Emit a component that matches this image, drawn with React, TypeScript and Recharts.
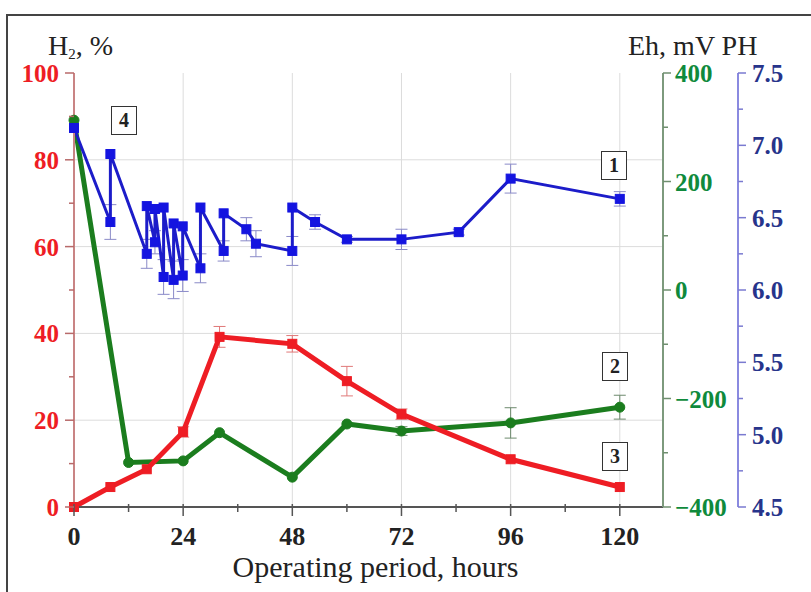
import React from 'react';
import { LineChart, Line, XAxis, YAxis, CartesianGrid, ErrorBar } from 'recharts';

// H2 content, % (curve 3)
const h2Hours = [0, 8, 16, 24, 32, 48, 60, 72, 96, 120];
const h2Values = [0, 4.6, 8.7, 17.3, 39.2, 37.6, 29, 21.4, 11, 4.6];
const h2Errors = [0, 0, 0, 1.2, 2.4, 1.9, 3.4, 1.2, 0, 0];

// Eh, mV (curve 2)
const ehHours = [0, 12, 24, 32, 48, 60, 72, 96, 120];
const ehValues = [313, -318, -315, -263, -345, -247, -260, -245, -216];
const ehErrors = [0, 0, 0, 0, 0, 0, 8, 28, 22];

// pH (curve 1), zigzag sampling
const phHours = [0, 8, 8, 16, 16, 17.8, 17.8, 19.7, 19.7, 21.9, 21.9, 23.9, 23.9, 27.8, 27.8, 32.9, 32.9, 37.9, 40, 48, 48, 53, 60, 72, 84.6, 96, 120];
const phValues = [7.12, 6.47, 6.94, 6.25, 6.58, 6.33, 6.56, 6.09, 6.57, 6.07, 6.46, 6.1, 6.44, 6.15, 6.57, 6.27, 6.53, 6.42, 6.32, 6.27, 6.57, 6.47, 6.35, 6.35, 6.4, 6.77, 6.63];
const phErrors = [0, 0.12, 0, 0.1, 0, 0.08, 0, 0.12, 0, 0.13, 0, 0.11, 0, 0.1, 0, 0.07, 0, 0.08, 0.09, 0.1, 0, 0.05, 0.02, 0.07, 0.02, 0.1, 0.05];

const xTicks = [0, 12, 24, 36, 48, 60, 72, 84, 96, 108, 120];
const h2Ticks = [0, 10, 20, 30, 40, 50, 60, 70, 80, 90, 100];
const ehTicks = [-400, -300, -200, -100, 0, 100, 200, 300, 400];
const phTicks = [4.5, 4.75, 5, 5.25, 5.5, 5.75, 6, 6.25, 6.5, 6.75, 7, 7.25, 7.5];

const h2Data = h2Hours.map((t, i) => ({ t, v: h2Values[i], e: h2Errors[i] }));
const ehData = ehHours.map((t, i) => ({ t, v: ehValues[i], e: ehErrors[i] }));
const phData = phHours.map((t, i) => ({ t, v: phValues[i], e: phErrors[i] }));

const serif = "'Liberation Serif', 'DejaVu Serif', serif";

const RED = '#ee1d24';
const GREEN = '#1b7d1e';
const BLUE = '#1c1cc9';

const XTick = (props: any) => {
  const { x, y, payload } = props;
  const v = payload.value;
  const major = v % 24 === 0;
  return (
    <g>
      <line x1={x} x2={x} y1={y - 3} y2={y + (major ? 9 : 5)} stroke="#555" strokeWidth={1.5} />
      {major && (
        <text x={x} y={y + 38} textAnchor="middle" fontFamily={serif} fontWeight="bold" fontSize={26} fill="#222">
          {v}
        </text>
      )}
    </g>
  );
};

const H2Tick = (props: any) => {
  const { x, y, payload } = props;
  const v = payload.value;
  const major = v % 20 === 0;
  return (
    <g>
      <line x1={x - (major ? 9 : 5)} x2={x} y1={y} y2={y} stroke="#b86a6a" strokeWidth={1.5} />
      {major && (
        <text x={x - 15} y={y + 9} textAnchor="end" fontFamily={serif} fontWeight="bold" fontSize={25} fill={RED}>
          {v}
        </text>
      )}
    </g>
  );
};

const EhTick = (props: any) => {
  const { x, y, payload } = props;
  const v = payload.value;
  const major = v % 200 === 0;
  return (
    <g>
      <line x1={x} x2={x + (major ? 8 : 5)} y1={y} y2={y} stroke="#6f8f6f" strokeWidth={1.5} />
      {major && (
        <text x={x + 12} y={y + 9} textAnchor="start" fontFamily={serif} fontWeight="bold" fontSize={25} fill="#0f8a3c">
          {v < 0 ? '\u2212' + Math.abs(v) : v}
        </text>
      )}
    </g>
  );
};

const PhTick = (props: any) => {
  const { x, y, payload } = props;
  const v = payload.value;
  const major = Math.abs(v * 2 - Math.round(v * 2)) < 1e-6;
  return (
    <g>
      <line x1={x} x2={x + (major ? 8 : 5)} y1={y} y2={y} stroke="#7a7ad0" strokeWidth={1.5} />
      {major && (
        <text x={x + 14} y={y + 9} textAnchor="start" fontFamily={serif} fontWeight="bold" fontSize={25} fill="#27348b">
          {v.toFixed(1)}
        </text>
      )}
    </g>
  );
};

const squareDot = (color: string, size: number) => (props: any) => {
  const { cx, cy, index } = props;
  if (cx == null || cy == null) return <g key={index} />;
  return <rect key={index} x={cx - size / 2} y={cy - size / 2} width={size} height={size} fill={color} stroke={color} />;
};

const annotations = [
  { text: '4', left: 111, top: 106 },
  { text: '1', left: 601, top: 151 },
  { text: '2', left: 602, top: 352 },
  { text: '3', left: 602, top: 442 },
];

export default function App() {
  return (
    <div style={{ position: 'absolute', left: 0, top: 0, width: 811, height: 592, background: '#fff', overflow: 'hidden' }}>
      <div style={{ position: 'absolute', left: 6, top: 14, width: 900, height: 700, borderTop: '2px solid #444', borderLeft: '2px solid #444' }} />
      <div style={{ position: 'absolute', left: 0, top: 0 }}>
        <LineChart width={811} height={592} margin={{ top: 73, right: 0, bottom: 0, left: 0 }}>
          <CartesianGrid
            xAxisId="x"
            yAxisId="h2"
            stroke="#dcdcdc"
            horizontalValues={[20, 40, 60, 80]}
            verticalValues={[24, 48, 72, 96, 120]}
          />
          <XAxis
            xAxisId="x"
            dataKey="t"
            type="number"
            domain={[0, 129.5]}
            ticks={xTicks}
            height={85}
            tickSize={0}
            tickMargin={0}
            tickLine={false}
            tick={<XTick />}
            stroke="#555"
            strokeWidth={2}
            allowDuplicatedCategory
          />
          <YAxis
            yAxisId="h2"
            orientation="left"
            type="number"
            domain={[0, 100]}
            ticks={h2Ticks}
            width={74}
            tickSize={0}
            tickMargin={0}
            tickLine={false}
            tick={<H2Tick />}
            stroke="#c98484"
            strokeWidth={2}
            interval={0}
          />
          <YAxis
            yAxisId="eh"
            orientation="right"
            type="number"
            domain={[-400, 400]}
            ticks={ehTicks}
            width={75}
            tickSize={0}
            tickMargin={0}
            tickLine={false}
            tick={<EhTick />}
            stroke="#7d9a7d"
            strokeWidth={2}
            interval={0}
          />
          <YAxis
            yAxisId="ph"
            orientation="right"
            type="number"
            domain={[4.5, 7.5]}
            ticks={phTicks}
            width={73}
            tickSize={0}
            tickMargin={0}
            tickLine={false}
            tick={<PhTick />}
            stroke="#8a8ae0"
            strokeWidth={2}
            interval={0}
          />
          <Line
            xAxisId="x"
            yAxisId="eh"
            data={ehData}
            dataKey="v"
            stroke={GREEN}
            strokeWidth={5}
            dot={{ r: 5, fill: GREEN, stroke: GREEN, strokeWidth: 1 }}
            isAnimationActive={false}
          >
            <ErrorBar dataKey="e" direction="y" width={6} stroke="#6d8a6d" strokeWidth={1} />
          </Line>
          <Line
            xAxisId="x"
            yAxisId="h2"
            data={h2Data}
            dataKey="v"
            stroke={RED}
            strokeWidth={5}
            dot={squareDot(RED, 9)}
            isAnimationActive={false}
          >
            <ErrorBar dataKey="e" direction="y" width={6} stroke="#e07878" strokeWidth={1} />
          </Line>
          <Line
            xAxisId="x"
            yAxisId="ph"
            data={phData}
            dataKey="v"
            stroke={BLUE}
            strokeWidth={3}
            dot={squareDot('#1414e0', 9)}
            isAnimationActive={false}
          >
            <ErrorBar dataKey="e" direction="y" width={6} stroke="#8a8ac8" strokeWidth={1} />
          </Line>
        </LineChart>
      </div>
      <div style={{ position: 'absolute', left: 48, top: 30, fontFamily: serif, fontSize: 28, lineHeight: '32px', color: '#222', whiteSpace: 'nowrap' }}>
        H<sub style={{ fontSize: 15, verticalAlign: '-4px' }}>2</sub>, %
      </div>
      <div style={{ position: 'absolute', left: 628, top: 30, fontFamily: serif, fontSize: 28, lineHeight: '32px', color: '#222', whiteSpace: 'nowrap' }}>
        Eh, mV PH
      </div>
      <div style={{ position: 'absolute', left: 0, width: 751, textAlign: 'center', top: 550, fontFamily: serif, fontSize: 30, lineHeight: '34px', color: '#222', whiteSpace: 'nowrap' }}>
        Operating period, hours
      </div>
      {annotations.map((a) => (
        <div
          key={a.text}
          style={{
            position: 'absolute',
            left: a.left,
            top: a.top,
            width: 24,
            height: 27,
            border: '1.5px solid #333',
            background: '#fff',
            fontFamily: serif,
            fontWeight: 'bold',
            fontSize: 20,
            lineHeight: '27px',
            textAlign: 'center',
            color: '#222',
          }}
        >
          {a.text}
        </div>
      ))}
    </div>
  );
}
